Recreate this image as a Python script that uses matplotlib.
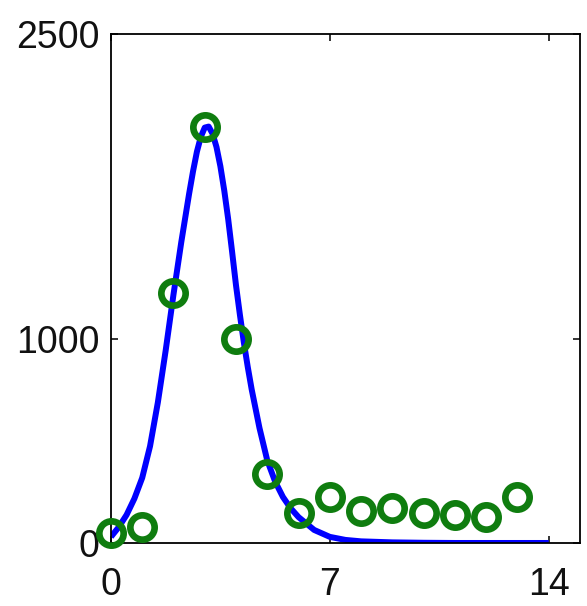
import matplotlib
matplotlib.use("Agg")
import matplotlib.pyplot as plt

# observed data (circles)
days = [0, 1, 2, 3, 4, 5, 6, 7, 8, 9, 10, 11, 12, 13]
observed = [49, 78, 1230, 2044, 1000, 338, 147, 225, 157, 171, 147, 137, 128, 225]

# fitted model curve (blue line)
fit_x = [0, 0.25, 0.5, 0.75, 1, 1.25, 1.5, 1.75, 2, 2.25, 2.5, 2.625, 2.75, 2.875,
         3, 3.125, 3.25, 3.375, 3.5, 3.625, 3.75, 3.875, 4, 4.125, 4.25, 4.375,
         4.5, 4.75, 5, 5.25, 5.5, 5.75, 6, 6.5, 7, 7.5, 8, 9, 10, 11, 12, 13, 14]
fit_y = [30, 78, 138, 218, 320, 475, 690, 945, 1220, 1478, 1715, 1825, 1922, 1995,
         2040, 2045, 2010, 1945, 1850, 1730, 1590, 1430, 1265, 1120, 985, 865,
         755, 565, 405, 302, 226, 170, 127, 64, 30, 15, 8, 3, 1, 0, 0, 0, 0]

x_ticks = [0, 7, 14]
y_ticks = [0, 1000, 2500]

plt.rcParams['font.family'] = ['Liberation Sans', 'DejaVu Sans']

fig = plt.figure(figsize=(5.87, 6.06), dpi=100)
ax = fig.add_axes([0.189, 0.104, 0.799, 0.840])

ax.plot(fit_x, fit_y, color='#0000ff', lw=4.3, solid_capstyle='butt',
        solid_joinstyle='round', zorder=2)
ax.plot(days, observed, linestyle='none', marker='o', ms=17.5, mew=4.8,
        mfc='none', mec='#0f7d0f', clip_on=False, zorder=3)

ax.set_xlim(0, 15)
ax.set_ylim(0, 2500)
ax.set_xticks(x_ticks)
ax.set_yticks(y_ticks)
ax.set_xticklabels([str(t) for t in x_ticks])
ax.set_yticklabels([str(t) for t in y_ticks])

ax.tick_params(direction='in', length=5, width=1.2, labelsize=27,
               top=True, right=True, colors='#111111')
ax.tick_params(axis='x', pad=17)
ax.tick_params(axis='y', pad=8)
for s in ax.spines.values():
    s.set_linewidth(1.3)
    s.set_color('black')

fig.savefig('out.png', dpi=100)
